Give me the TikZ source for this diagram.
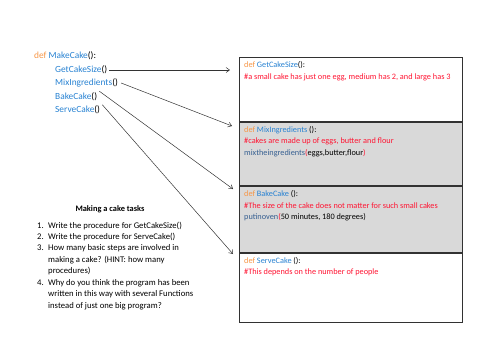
\documentclass[tikz,border=0pt]{standalone}
\usepackage{fontspec}
\setmainfont{Carlito}
\usetikzlibrary{arrows.meta}
\definecolor{kwor}{RGB}{247,150,70}
\definecolor{fnbl}{RGB}{40,130,210}
\definecolor{cmred}{RGB}{255,20,50}
\definecolor{calbl}{RGB}{54,95,145}
\definecolor{boxgray}{RGB}{217,217,217}
\definecolor{boxline}{RGB}{50,50,50}
\tikzset{
  code/.style={anchor=west, inner sep=0pt, font=\fontsize{9.4}{11}\selectfont},
  btxt/.style={anchor=west, inner sep=0pt, font=\fontsize{8.3}{10}\selectfont},
  panel/.style={draw=boxline, line width=1.5pt, minimum width=223bp, anchor=north west, inner sep=0pt},
  link/.style={draw=black!80, line width=0.5pt, -{Straight Barb[length=3.5pt,width=5pt]}},
}
\newcommand{\kw}[1]{\textcolor{kwor}{#1}}
\newcommand{\fn}[1]{\textcolor{fnbl}{#1}}
\newcommand{\cm}[1]{\textcolor{cmred}{#1}}
\begin{document}
\begin{tikzpicture}[x=1bp,y=-1bp]
\useasboundingbox (0,0) rectangle (500,354);
% panels
\node[panel, fill=white, minimum height=64bp] (p1) at (238.5,57) {};
\node[panel, fill=boxgray, minimum height=64bp] (p2) at (238.5,121) {};
\node[panel, fill=boxgray, minimum height=67bp] (p3) at (238.5,185) {};
\node[panel, fill=white, minimum height=69.5bp] (p4) at (238.5,252) {};
% left code
\node[code] (mk) at (34,56) {\kw{def} \fn{MakeCake}():};
\node[code] (get) at (55,70) {\fn{GetCakeSize}()};
\node[code] (mix) at (55,83) {\fn{MixIngredients}()};
\node[code] (bake) at (55,96.5) {\fn{BakeCake}()};
\node[code] (serve) at (55,110) {\fn{ServeCake}()};
% box texts
\node[btxt] (t1a) at (244,65.5) {\kw{def} \fn{GetCakeSize}():};
\node[btxt] (t1b) at (244,77.5) {\cm{\#a small cake has just one egg, medium has 2, and large has 3}};
\node[btxt] (t2a) at (244,130.5) {\kw{def} \fn{MixIngredients} ():};
\node[btxt] (t2b) at (244,141.7) {\cm{\#cakes are made up of eggs, butter and flour}};
\node[btxt] (t2c) at (244,152.7) {\textcolor{calbl}{mixtheingredients}\cm{(}eggs,butter,flour\cm{)}};
\node[btxt] (t3a) at (244,194.3) {\kw{def} \fn{BakeCake} ():};
\node[btxt] (t3b) at (244,205.7) {\cm{\#The size of the cake does not matter for such small cakes}};
\node[btxt] (t3c) at (244,217.5) {\textcolor{calbl}{putinoven}\cm{(}50 minutes, 180 degrees)};
\node[btxt] (t4a) at (244,261) {\kw{def} \fn{ServeCake} ():};
\node[btxt] (t4b) at (244,272.3) {\cm{\#This depends on the number of people}};
% arrows
\coordinate (e1) at (230,70);
\coordinate (e2) at (232,126);
\coordinate (e3) at (233,189);
\coordinate (e4) at (233,254);
\draw[link] ([xshift=2bp]get.east) -- (e1);
\draw[link] ([xshift=3bp]mix.east) -- (e2);
\draw[link] ([xshift=2bp,yshift=1bp]bake.north east) -- (e3);
\draw[link] ([xshift=2bp,yshift=1bp]serve.north east) -- (e4);
% tasks
\node[inner sep=0pt, font=\fontsize{8.4}{10}\selectfont\bfseries] (title) at (110,209) {Making a cake tasks};
\node[anchor=north west, inner sep=0pt, align=left, font=\fontsize{8.7}{11.5}\selectfont] (tasks) at (37,221.5) {%
\makebox[11bp][l]{1.}Write the procedure for GetCakeSize()\\
\makebox[11bp][l]{2.}Write the procedure for ServeCake()\\
\makebox[11bp][l]{3.}How many basic steps are involved in\\
\makebox[11bp][l]{}making a cake? (HINT: how many\\
\makebox[11bp][l]{}procedures)\\
\makebox[11bp][l]{4.}Why do you think the program has been\\
\makebox[11bp][l]{}written in this way with several Functions\\
\makebox[11bp][l]{}instead of just one big program?};
\end{tikzpicture}
\end{document}
